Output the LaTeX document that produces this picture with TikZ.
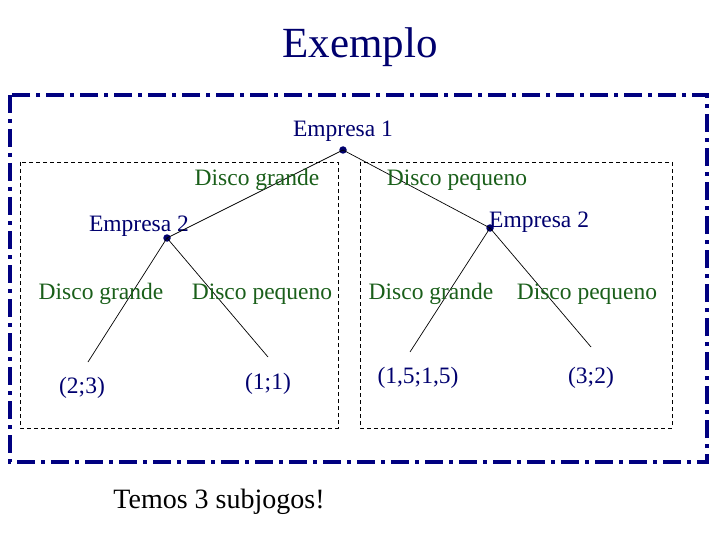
\documentclass[tikz,border=0pt]{standalone}
\usepackage{fontspec}
\setmainfont{Liberation Serif}
\definecolor{navy}{RGB}{0,0,110}
\definecolor{frame}{RGB}{0,0,128}
\definecolor{lab}{RGB}{26,95,26}
\begin{document}
\begin{tikzpicture}[x=1pt,y=-1pt,
  txt/.style={text=navy,font=\fontsize{23.5}{26}\selectfont,inner sep=0pt},
  gtxt/.style={text=lab,font=\fontsize{23.5}{26}\selectfont,inner sep=0pt},
  dot/.style={circle,fill=navy,inner sep=0pt,minimum size=7.5pt},
  branch/.style={draw=black,line width=0.7pt},
  sub/.style={draw=black,line width=0.8pt,dash pattern=on 4pt off 3pt},
  outer/.style={draw=frame,line width=4pt,dash pattern=on 18pt off 6pt on 4pt off 6pt}]
\useasboundingbox (0,0) rectangle (720,540);
\node[text=navy,font=\fontsize{43}{48}\selectfont,inner sep=0pt] (title) at (360,47) {Exemplo};
\draw[outer] (10,95) rectangle (707,462);
\draw[sub] (20,162) rectangle (338,428);
\draw[sub] (360,162) rectangle (672,428);
% nodes
\node[dot] (r) at (343,150) {};
\node[txt] (rl) at (343,131) {Empresa 1};
\node[dot] (a) at (167,238) {};
\node[txt] (al) at (139,226) {Empresa 2};
\node[dot] (b) at (490,228) {};
\node[txt,anchor=west] (bl) at (489,222) {Empresa 2};
\coordinate (a1) at (88,362);
\coordinate (a2) at (268,357);
\coordinate (b1) at (410,352);
\coordinate (b2) at (591,347);
\draw[branch] (r.center) -- (a.center);
\draw[branch] (r.center) -- (b.center);
\draw[branch] (a.center) -- (a1);
\draw[branch] (a.center) -- (a2);
\draw[branch] (b.center) -- (b1);
\draw[branch] (b.center) -- (b2);
% branch labels
\node[gtxt] (g0) at (257,180) {Disco grande};
\node[gtxt] (p0) at (457,180) {Disco pequeno};
\node[gtxt] (g1) at (101,294) {Disco grande};
\node[gtxt] (p1) at (262,294) {Disco pequeno};
\node[gtxt] (g2) at (431,294) {Disco grande};
\node[gtxt] (p2) at (587,294) {Disco pequeno};
% payoffs
\node[txt] (v1) at (82,388) {(2;3)};
\node[txt] (v2) at (268,384) {(1;1)};
\node[txt] (v3) at (418,378) {(1,5;1,5)};
\node[txt] (v4) at (591,378) {(3;2)};
\node[text=black,font=\fontsize{28}{32}\selectfont,inner sep=0pt] (note) at (219,502) {Temos 3 subjogos!};
\end{tikzpicture}
\end{document}
